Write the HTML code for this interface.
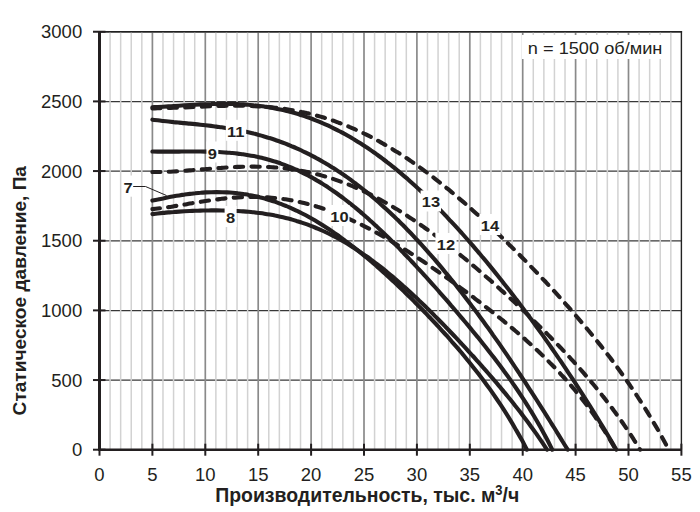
<!DOCTYPE html>
<html><head><meta charset="utf-8"><style>
html,body{margin:0;padding:0;background:#fff;overflow:hidden;width:700px;height:512px;}
svg{display:block;font-family:"Liberation Sans",sans-serif;}
</style></head><body>
<svg width="700" height="512" viewBox="0 0 700 512">
<rect width="700" height="512" fill="#fff"/>
<line x1="99.5" y1="380.19" x2="681.40" y2="380.19" stroke="#383838" stroke-width="1.2"/>
<line x1="99.5" y1="310.53" x2="681.40" y2="310.53" stroke="#383838" stroke-width="1.2"/>
<line x1="99.5" y1="240.87" x2="681.40" y2="240.87" stroke="#383838" stroke-width="1.2"/>
<line x1="99.5" y1="171.21" x2="681.40" y2="171.21" stroke="#383838" stroke-width="1.2"/>
<line x1="99.5" y1="101.55" x2="681.40" y2="101.55" stroke="#383838" stroke-width="1.2"/>
<line x1="99.5" y1="31.89" x2="681.40" y2="31.89" stroke="#383838" stroke-width="1.2"/>
<line x1="110.08" y1="31.74" x2="110.08" y2="449.7" stroke="#d2d2d2" stroke-width="1.5"/>
<line x1="120.66" y1="31.74" x2="120.66" y2="449.7" stroke="#d2d2d2" stroke-width="1.5"/>
<line x1="131.24" y1="31.74" x2="131.24" y2="449.7" stroke="#d2d2d2" stroke-width="1.5"/>
<line x1="141.82" y1="31.74" x2="141.82" y2="449.7" stroke="#d2d2d2" stroke-width="1.5"/>
<line x1="162.98" y1="31.74" x2="162.98" y2="449.7" stroke="#d2d2d2" stroke-width="1.5"/>
<line x1="173.56" y1="31.74" x2="173.56" y2="449.7" stroke="#d2d2d2" stroke-width="1.5"/>
<line x1="184.14" y1="31.74" x2="184.14" y2="449.7" stroke="#d2d2d2" stroke-width="1.5"/>
<line x1="194.72" y1="31.74" x2="194.72" y2="449.7" stroke="#d2d2d2" stroke-width="1.5"/>
<line x1="215.88" y1="31.74" x2="215.88" y2="449.7" stroke="#d2d2d2" stroke-width="1.5"/>
<line x1="226.46" y1="31.74" x2="226.46" y2="449.7" stroke="#d2d2d2" stroke-width="1.5"/>
<line x1="237.04" y1="31.74" x2="237.04" y2="449.7" stroke="#d2d2d2" stroke-width="1.5"/>
<line x1="247.62" y1="31.74" x2="247.62" y2="449.7" stroke="#d2d2d2" stroke-width="1.5"/>
<line x1="268.78" y1="31.74" x2="268.78" y2="449.7" stroke="#d2d2d2" stroke-width="1.5"/>
<line x1="279.36" y1="31.74" x2="279.36" y2="449.7" stroke="#d2d2d2" stroke-width="1.5"/>
<line x1="289.94" y1="31.74" x2="289.94" y2="449.7" stroke="#d2d2d2" stroke-width="1.5"/>
<line x1="300.52" y1="31.74" x2="300.52" y2="449.7" stroke="#d2d2d2" stroke-width="1.5"/>
<line x1="321.68" y1="31.74" x2="321.68" y2="449.7" stroke="#d2d2d2" stroke-width="1.5"/>
<line x1="332.26" y1="31.74" x2="332.26" y2="449.7" stroke="#d2d2d2" stroke-width="1.5"/>
<line x1="342.84" y1="31.74" x2="342.84" y2="449.7" stroke="#d2d2d2" stroke-width="1.5"/>
<line x1="353.42" y1="31.74" x2="353.42" y2="449.7" stroke="#d2d2d2" stroke-width="1.5"/>
<line x1="374.58" y1="31.74" x2="374.58" y2="449.7" stroke="#d2d2d2" stroke-width="1.5"/>
<line x1="385.16" y1="31.74" x2="385.16" y2="449.7" stroke="#d2d2d2" stroke-width="1.5"/>
<line x1="395.74" y1="31.74" x2="395.74" y2="449.7" stroke="#d2d2d2" stroke-width="1.5"/>
<line x1="406.32" y1="31.74" x2="406.32" y2="449.7" stroke="#d2d2d2" stroke-width="1.5"/>
<line x1="427.48" y1="31.74" x2="427.48" y2="449.7" stroke="#d2d2d2" stroke-width="1.5"/>
<line x1="438.06" y1="31.74" x2="438.06" y2="449.7" stroke="#d2d2d2" stroke-width="1.5"/>
<line x1="448.64" y1="31.74" x2="448.64" y2="449.7" stroke="#d2d2d2" stroke-width="1.5"/>
<line x1="459.22" y1="31.74" x2="459.22" y2="449.7" stroke="#d2d2d2" stroke-width="1.5"/>
<line x1="480.38" y1="31.74" x2="480.38" y2="449.7" stroke="#d2d2d2" stroke-width="1.5"/>
<line x1="490.96" y1="31.74" x2="490.96" y2="449.7" stroke="#d2d2d2" stroke-width="1.5"/>
<line x1="501.54" y1="31.74" x2="501.54" y2="449.7" stroke="#d2d2d2" stroke-width="1.5"/>
<line x1="512.12" y1="31.74" x2="512.12" y2="449.7" stroke="#d2d2d2" stroke-width="1.5"/>
<line x1="533.28" y1="31.74" x2="533.28" y2="449.7" stroke="#d2d2d2" stroke-width="1.5"/>
<line x1="543.86" y1="31.74" x2="543.86" y2="449.7" stroke="#d2d2d2" stroke-width="1.5"/>
<line x1="554.44" y1="31.74" x2="554.44" y2="449.7" stroke="#d2d2d2" stroke-width="1.5"/>
<line x1="565.02" y1="31.74" x2="565.02" y2="449.7" stroke="#d2d2d2" stroke-width="1.5"/>
<line x1="586.18" y1="31.74" x2="586.18" y2="449.7" stroke="#d2d2d2" stroke-width="1.5"/>
<line x1="596.76" y1="31.74" x2="596.76" y2="449.7" stroke="#d2d2d2" stroke-width="1.5"/>
<line x1="607.34" y1="31.74" x2="607.34" y2="449.7" stroke="#d2d2d2" stroke-width="1.5"/>
<line x1="617.92" y1="31.74" x2="617.92" y2="449.7" stroke="#d2d2d2" stroke-width="1.5"/>
<line x1="639.08" y1="31.74" x2="639.08" y2="449.7" stroke="#d2d2d2" stroke-width="1.5"/>
<line x1="649.66" y1="31.74" x2="649.66" y2="449.7" stroke="#d2d2d2" stroke-width="1.5"/>
<line x1="660.24" y1="31.74" x2="660.24" y2="449.7" stroke="#d2d2d2" stroke-width="1.5"/>
<line x1="670.82" y1="31.74" x2="670.82" y2="449.7" stroke="#d2d2d2" stroke-width="1.5"/>
<line x1="152.40" y1="31.74" x2="152.40" y2="449.7" stroke="#8a8a8a" stroke-width="1.7"/>
<line x1="205.30" y1="31.74" x2="205.30" y2="449.7" stroke="#8a8a8a" stroke-width="1.7"/>
<line x1="258.20" y1="31.74" x2="258.20" y2="449.7" stroke="#8a8a8a" stroke-width="1.7"/>
<line x1="311.10" y1="31.74" x2="311.10" y2="449.7" stroke="#8a8a8a" stroke-width="1.7"/>
<line x1="364.00" y1="31.74" x2="364.00" y2="449.7" stroke="#8a8a8a" stroke-width="1.7"/>
<line x1="416.90" y1="31.74" x2="416.90" y2="449.7" stroke="#8a8a8a" stroke-width="1.7"/>
<line x1="469.80" y1="31.74" x2="469.80" y2="449.7" stroke="#8a8a8a" stroke-width="1.7"/>
<line x1="522.70" y1="31.74" x2="522.70" y2="449.7" stroke="#8a8a8a" stroke-width="1.7"/>
<line x1="575.60" y1="31.74" x2="575.60" y2="449.7" stroke="#8a8a8a" stroke-width="1.7"/>
<line x1="628.50" y1="31.74" x2="628.50" y2="449.7" stroke="#8a8a8a" stroke-width="1.7"/>
<line x1="681.40" y1="31.24" x2="681.40" y2="449.7" stroke="#222" stroke-width="1.4"/>
<line x1="99.5" y1="31.74" x2="682.10" y2="31.74" stroke="#222" stroke-width="1.5"/>
<path d="M152.40,107.25 C153.3,107.2 156.0,107.1 157.7,107.0 C159.5,106.9 161.3,106.8 163.1,106.7 C164.8,106.6 166.6,106.5 168.4,106.4 C170.2,106.3 172.0,106.1 173.7,106.0 C175.5,105.9 177.3,105.8 179.1,105.7 C180.8,105.6 182.6,105.4 184.4,105.3 C186.2,105.2 188.0,105.1 189.7,105.0 C191.5,104.9 193.3,104.8 195.1,104.7 C196.8,104.6 198.6,104.5 200.4,104.4 C202.2,104.3 203.9,104.2 205.7,104.2 C207.5,104.1 209.3,104.0 211.1,104.0 C212.8,103.9 214.6,103.9 216.4,103.9 C218.2,103.8 219.9,103.8 221.7,103.8 C223.5,103.8 225.3,103.8 227.1,103.8 C228.8,103.8 230.6,103.9 232.4,103.9 C234.2,104.0 235.9,104.0 237.7,104.1 C239.5,104.2 241.3,104.3 243.1,104.4 C244.8,104.5 246.6,104.6 248.4,104.8 C250.2,104.9 251.9,105.1 253.7,105.3 C255.5,105.4 257.3,105.6 259.1,105.9 C260.8,106.1 262.6,106.3 264.4,106.6 C266.2,106.8 267.9,107.1 269.7,107.4 C271.5,107.7 273.3,108.0 275.0,108.4 C276.8,108.7 278.6,109.1 280.4,109.5 C282.2,109.9 283.9,110.3 285.7,110.7 C287.5,111.2 289.3,111.6 291.0,112.1 C292.8,112.6 294.6,113.1 296.4,113.6 C298.2,114.1 299.9,114.7 301.7,115.3 C303.5,115.8 305.3,116.4 307.0,117.1 C308.8,117.7 310.6,118.3 312.4,119.0 C314.2,119.7 315.9,120.4 317.7,121.1 C319.5,121.8 321.3,122.6 323.0,123.4 C324.8,124.1 326.6,124.9 328.4,125.7 C330.2,126.6 331.9,127.4 333.7,128.3 C335.5,129.2 337.3,130.1 339.0,131.0 C340.8,131.9 342.6,132.9 344.4,133.8 C346.1,134.8 347.9,135.8 349.7,136.8 C351.5,137.9 353.3,138.9 355.0,140.0 C356.8,141.1 358.6,142.2 360.4,143.3 C362.1,144.4 363.9,145.6 365.7,146.8 C367.5,147.9 369.3,149.2 371.0,150.4 C372.8,151.6 374.6,152.9 376.4,154.1 C378.1,155.4 379.9,156.7 381.7,158.0 C383.5,159.4 385.3,160.7 387.0,162.1 C388.8,163.5 390.6,164.9 392.4,166.3 C394.1,167.7 395.9,169.2 397.7,170.6 C399.5,172.1 401.3,173.6 403.0,175.1 C404.8,176.6 406.6,178.2 408.4,179.7 C410.1,181.3 411.9,182.9 413.7,184.5 C415.5,186.1 417.3,187.7 419.0,189.4 C420.8,191.0 422.6,192.7 424.4,194.4 C426.1,196.1 427.9,197.8 429.7,199.5 C431.5,201.3 433.2,203.0 435.0,204.8 C436.8,206.6 438.6,208.4 440.4,210.2 C442.1,212.0 443.9,213.9 445.7,215.7 C447.5,217.6 449.2,219.5 451.0,221.4 C452.8,223.3 454.6,225.2 456.4,227.2 C458.1,229.1 459.9,231.1 461.7,233.0 C463.5,235.0 465.2,237.0 467.0,239.0 C468.8,241.0 470.6,243.1 472.4,245.1 C474.1,247.2 475.9,249.3 477.7,251.3 C479.5,253.4 481.2,255.5 483.0,257.7 C484.8,259.8 486.6,261.9 488.4,264.1 C490.1,266.2 491.9,268.4 493.7,270.6 C495.5,272.8 497.2,275.0 499.0,277.3 C500.8,279.5 502.6,281.7 504.3,284.0 C506.1,286.2 507.9,288.5 509.7,290.8 C511.5,293.1 513.2,295.4 515.0,297.7 C516.8,300.1 518.6,302.4 520.3,304.8 C522.1,307.1 523.9,309.5 525.7,311.9 C527.5,314.3 529.2,316.7 531.0,319.1 C532.8,321.6 534.6,324.0 536.3,326.5 C538.1,328.9 539.9,331.4 541.7,333.9 C543.5,336.4 545.2,338.9 547.0,341.4 C548.8,343.9 550.6,346.5 552.3,349.0 C554.1,351.6 555.9,354.2 557.7,356.8 C559.5,359.4 561.2,362.0 563.0,364.6 C564.8,367.2 566.6,369.9 568.3,372.6 C570.1,375.2 571.9,377.9 573.7,380.6 C575.5,383.3 577.2,386.0 579.0,388.8 C580.8,391.5 582.6,394.3 584.3,397.1 C586.1,399.9 587.9,402.7 589.7,405.5 C591.4,408.3 593.2,411.2 595.0,414.0 C596.8,416.9 598.6,419.8 600.3,422.7 C602.1,425.7 603.9,428.6 605.7,431.6 C607.4,434.5 609.2,437.5 611.0,440.6 C612.8,443.6 615.4,448.2 616.3,449.7" fill="none" stroke="#231f20" stroke-width="4.1" stroke-linecap="round" stroke-linejoin="round"/>
<path d="M152.40,108.37 C153.3,108.4 155.9,108.3 157.7,108.3 C159.5,108.3 161.3,108.2 163.0,108.2 C164.8,108.1 166.6,108.1 168.4,108.0 C170.1,108.0 171.9,107.9 173.7,107.8 C175.5,107.8 177.2,107.7 179.0,107.6 C180.8,107.6 182.6,107.5 184.3,107.4 C186.1,107.3 187.9,107.2 189.7,107.2 C191.4,107.1 193.2,107.0 195.0,106.9 C196.8,106.8 198.5,106.8 200.3,106.7 C202.1,106.6 203.9,106.5 205.6,106.4 C207.4,106.4 209.2,106.3 210.9,106.2 C212.7,106.2 214.5,106.1 216.3,106.1 C218.0,106.0 219.8,105.9 221.6,105.9 C223.4,105.9 225.1,105.8 226.9,105.8 C228.7,105.8 230.5,105.7 232.2,105.7 C234.0,105.7 235.8,105.7 237.6,105.7 C239.3,105.7 241.1,105.8 242.9,105.8 C244.7,105.8 246.4,105.8 248.2,105.9 C250.0,106.0 251.8,106.0 253.5,106.1 C255.3,106.2 257.1,106.3 258.9,106.4 C260.6,106.5 262.4,106.6 264.2,106.7 C266.0,106.8 267.7,107.0 269.5,107.1 C271.3,107.3 273.0,107.5 274.8,107.7 C276.6,107.9 278.4,108.1 280.1,108.3 C281.9,108.5 283.7,108.8 285.5,109.0 C287.2,109.3 289.0,109.6 290.8,109.9 C292.6,110.2 294.3,110.5 296.1,110.8 C297.9,111.2 299.7,111.5 301.4,111.9 C303.2,112.3 305.0,112.6 306.8,113.1 C308.5,113.5 310.3,113.9 312.1,114.4 C313.9,114.8 315.6,115.3 317.4,115.8 C319.2,116.3 321.0,116.8 322.7,117.3 C324.5,117.8 326.3,118.4 328.0,119.0 C329.8,119.5 331.6,120.1 333.4,120.7 C335.1,121.4 336.9,122.0 338.7,122.7 C340.5,123.3 342.2,124.0 344.0,124.7 C345.8,125.4 347.6,126.1 349.3,126.9 C351.1,127.6 352.9,128.4 354.7,129.2 C356.4,130.0 358.2,130.8 360.0,131.6 C361.8,132.4 363.5,133.3 365.3,134.1 C367.1,135.0 368.9,135.9 370.6,136.8 C372.4,137.7 374.2,138.7 376.0,139.6 C377.7,140.6 379.5,141.6 381.3,142.6 C383.1,143.6 384.8,144.6 386.6,145.6 C388.4,146.7 390.1,147.7 391.9,148.8 C393.7,149.9 395.5,151.0 397.2,152.1 C399.0,153.2 400.8,154.4 402.6,155.5 C404.3,156.7 406.1,157.8 407.9,159.0 C409.7,160.2 411.4,161.5 413.2,162.7 C415.0,163.9 416.8,165.2 418.5,166.4 C420.3,167.7 422.1,169.0 423.9,170.3 C425.6,171.6 427.4,172.9 429.2,174.3 C431.0,175.6 432.7,177.0 434.5,178.3 C436.3,179.7 438.1,181.1 439.8,182.5 C441.6,183.9 443.4,185.3 445.1,186.8 C446.9,188.2 448.7,189.7 450.5,191.1 C452.2,192.6 454.0,194.1 455.8,195.6 C457.6,197.1 459.3,198.6 461.1,200.1 C462.9,201.6 464.7,203.2 466.4,204.7 C468.2,206.3 470.0,207.8 471.8,209.4 C473.5,211.0 475.3,212.6 477.1,214.2 C478.9,215.8 480.6,217.4 482.4,219.1 C484.2,220.7 486.0,222.3 487.7,224.0 C489.5,225.6 491.3,227.3 493.1,229.0 C494.8,230.7 496.6,232.4 498.4,234.1 C500.2,235.8 501.9,237.5 503.7,239.2 C505.5,240.9 507.2,242.6 509.0,244.4 C510.8,246.1 512.6,247.9 514.3,249.7 C516.1,251.4 517.9,253.2 519.7,255.0 C521.4,256.8 523.2,258.6 525.0,260.4 C526.8,262.2 528.5,264.0 530.3,265.9 C532.1,267.7 533.9,269.5 535.6,271.4 C537.4,273.2 539.2,275.1 541.0,277.0 C542.7,278.9 544.5,280.7 546.3,282.6 C548.1,284.6 549.8,286.5 551.6,288.4 C553.4,290.3 555.2,292.3 556.9,294.2 C558.7,296.2 560.5,298.1 562.2,300.1 C564.0,302.1 565.8,304.1 567.6,306.1 C569.3,308.1 571.1,310.1 572.9,312.1 C574.7,314.2 576.4,316.2 578.2,318.3 C580.0,320.4 581.8,322.5 583.5,324.6 C585.3,326.7 587.1,328.8 588.9,331.0 C590.6,333.1 592.4,335.3 594.2,337.5 C596.0,339.7 597.7,341.9 599.5,344.1 C601.3,346.3 603.1,348.6 604.8,350.9 C606.6,353.2 608.4,355.5 610.2,357.8 C611.9,360.2 613.7,362.5 615.5,365.0 C617.3,367.4 619.0,369.8 620.8,372.3 C622.6,374.7 624.3,377.2 626.1,379.8 C627.9,382.3 629.7,384.9 631.4,387.5 C633.2,390.1 635.0,392.8 636.8,395.5 C638.5,398.2 640.3,400.9 642.1,403.7 C643.9,406.5 645.6,409.3 647.4,412.2 C649.2,415.1 651.0,418.1 652.7,421.1 C654.5,424.1 656.3,427.1 658.1,430.2 C659.8,433.3 661.6,436.5 663.4,439.8 C665.2,443.0 667.8,448.0 668.7,449.7" fill="none" stroke="#231f20" stroke-width="4.1" stroke-dasharray="8.3 8.28" stroke-dashoffset="0.32" stroke-linecap="round"/>
<path d="M152.40,119.65 C153.3,119.8 155.9,120.1 157.7,120.3 C159.5,120.6 161.3,120.8 163.0,121.0 C164.8,121.2 166.6,121.4 168.4,121.5 C170.1,121.7 171.9,121.9 173.7,122.1 C175.5,122.2 177.2,122.4 179.0,122.6 C180.8,122.8 182.6,122.9 184.3,123.1 C186.1,123.3 187.9,123.4 189.7,123.6 C191.4,123.8 193.2,124.0 195.0,124.1 C196.8,124.3 198.5,124.5 200.3,124.7 C202.1,124.9 203.9,125.1 205.6,125.3 C207.4,125.5 209.2,125.7 211.0,125.9 C212.7,126.1 214.5,126.4 216.3,126.6 C218.1,126.8 219.8,127.1 221.6,127.3 C223.4,127.6 225.2,127.9 226.9,128.2 C228.7,128.4 230.5,128.7 232.3,129.1 C234.0,129.4 235.8,129.7 237.6,130.0 C239.4,130.4 241.1,130.7 242.9,131.1 C244.7,131.5 246.5,131.9 248.2,132.3 C250.0,132.7 251.8,133.1 253.6,133.6 C255.3,134.0 257.1,134.5 258.9,135.0 C260.7,135.4 262.4,135.9 264.2,136.5 C266.0,137.0 267.8,137.5 269.5,138.1 C271.3,138.6 273.1,139.2 274.8,139.8 C276.6,140.4 278.4,141.1 280.2,141.7 C281.9,142.3 283.7,143.0 285.5,143.7 C287.3,144.4 289.0,145.1 290.8,145.8 C292.6,146.6 294.4,147.3 296.1,148.1 C297.9,148.9 299.7,149.7 301.5,150.5 C303.2,151.4 305.0,152.2 306.8,153.1 C308.6,154.0 310.3,154.9 312.1,155.8 C313.9,156.7 315.7,157.7 317.4,158.7 C319.2,159.6 321.0,160.6 322.8,161.7 C324.5,162.7 326.3,163.7 328.1,164.8 C329.9,165.9 331.6,167.0 333.4,168.1 C335.2,169.2 337.0,170.4 338.7,171.6 C340.5,172.7 342.3,173.9 344.1,175.2 C345.8,176.4 347.6,177.6 349.4,178.9 C351.2,180.2 352.9,181.5 354.7,182.8 C356.5,184.2 358.3,185.5 360.0,186.9 C361.8,188.3 363.6,189.7 365.4,191.1 C367.1,192.5 368.9,194.0 370.7,195.5 C372.5,197.0 374.2,198.5 376.0,200.0 C377.8,201.5 379.6,203.1 381.3,204.7 C383.1,206.3 384.9,207.9 386.7,209.5 C388.4,211.1 390.2,212.8 392.0,214.5 C393.8,216.1 395.5,217.8 397.3,219.6 C399.1,221.3 400.8,223.1 402.6,224.8 C404.4,226.6 406.2,228.4 407.9,230.3 C409.7,232.1 411.5,233.9 413.3,235.8 C415.0,237.7 416.8,239.6 418.6,241.5 C420.4,243.4 422.1,245.4 423.9,247.3 C425.7,249.3 427.5,251.3 429.2,253.3 C431.0,255.3 432.8,257.4 434.6,259.4 C436.3,261.5 438.1,263.6 439.9,265.7 C441.7,267.8 443.4,269.9 445.2,272.1 C447.0,274.2 448.8,276.4 450.5,278.6 C452.3,280.8 454.1,283.0 455.9,285.2 C457.6,287.5 459.4,289.7 461.2,292.0 C463.0,294.3 464.7,296.6 466.5,298.9 C468.3,301.2 470.1,303.5 471.8,305.9 C473.6,308.2 475.4,310.6 477.2,313.0 C478.9,315.4 480.7,317.8 482.5,320.3 C484.3,322.7 486.0,325.2 487.8,327.6 C489.6,330.1 491.4,332.6 493.1,335.1 C494.9,337.6 496.7,340.1 498.5,342.7 C500.2,345.2 502.0,347.8 503.8,350.4 C505.6,352.9 507.3,355.5 509.1,358.1 C510.9,360.8 512.7,363.4 514.4,366.0 C516.2,368.7 518.0,371.3 519.7,374.0 C521.5,376.7 523.3,379.4 525.1,382.1 C526.8,384.8 528.6,387.5 530.4,390.3 C532.2,393.0 533.9,395.7 535.7,398.5 C537.5,401.3 539.3,404.1 541.0,406.8 C542.8,409.6 544.6,412.4 546.4,415.3 C548.1,418.1 549.9,420.9 551.7,423.8 C553.5,426.6 555.2,429.5 557.0,432.3 C558.8,435.2 560.6,438.1 562.3,441.0 C564.1,443.9 566.8,448.2 567.7,449.7" fill="none" stroke="#231f20" stroke-width="4.1" stroke-linecap="round" stroke-linejoin="round"/>
<path d="M152.40,172.04 C153.3,172.0 155.9,172.0 157.7,172.0 C159.5,172.0 161.2,172.0 163.0,171.9 C164.8,171.9 166.5,171.8 168.3,171.7 C170.1,171.7 171.8,171.6 173.6,171.5 C175.4,171.4 177.1,171.3 178.9,171.2 C180.7,171.1 182.4,170.9 184.2,170.8 C186.0,170.7 187.7,170.5 189.5,170.4 C191.3,170.3 193.0,170.1 194.8,170.0 C196.6,169.8 198.3,169.7 200.1,169.5 C201.9,169.4 203.6,169.2 205.4,169.1 C207.2,168.9 208.9,168.8 210.7,168.7 C212.5,168.5 214.3,168.4 216.0,168.2 C217.8,168.1 219.6,168.0 221.3,167.9 C223.1,167.7 224.9,167.6 226.6,167.5 C228.4,167.4 230.2,167.3 231.9,167.2 C233.7,167.1 235.5,167.0 237.2,166.9 C239.0,166.9 240.8,166.8 242.5,166.8 C244.3,166.7 246.1,166.7 247.8,166.6 C249.6,166.6 251.4,166.6 253.1,166.6 C254.9,166.6 256.7,166.6 258.4,166.7 C260.2,166.7 262.0,166.7 263.7,166.8 C265.5,166.8 267.3,166.9 269.0,167.0 C270.8,167.1 272.6,167.2 274.3,167.4 C276.1,167.5 277.9,167.6 279.6,167.8 C281.4,168.0 283.2,168.1 284.9,168.3 C286.7,168.5 288.5,168.8 290.2,169.0 C292.0,169.3 293.8,169.5 295.5,169.8 C297.3,170.1 299.1,170.4 300.8,170.7 C302.6,171.0 304.4,171.4 306.1,171.7 C307.9,172.1 309.7,172.5 311.4,172.9 C313.2,173.3 315.0,173.7 316.7,174.2 C318.5,174.6 320.3,175.1 322.0,175.6 C323.8,176.1 325.6,176.6 327.3,177.1 C329.1,177.7 330.9,178.2 332.7,178.8 C334.4,179.4 336.2,180.0 338.0,180.6 C339.7,181.2 341.5,181.9 343.3,182.6 C345.0,183.2 346.8,183.9 348.6,184.6 C350.3,185.3 352.1,186.1 353.9,186.8 C355.6,187.6 357.4,188.4 359.2,189.2 C360.9,190.0 362.7,190.8 364.5,191.6 C366.2,192.4 368.0,193.3 369.8,194.2 C371.5,195.1 373.3,196.0 375.1,196.9 C376.8,197.8 378.6,198.8 380.4,199.7 C382.1,200.7 383.9,201.7 385.7,202.7 C387.4,203.7 389.2,204.7 391.0,205.7 C392.7,206.8 394.5,207.8 396.3,208.9 C398.0,210.0 399.8,211.1 401.6,212.2 C403.3,213.3 405.1,214.4 406.9,215.6 C408.6,216.7 410.4,217.9 412.2,219.1 C413.9,220.2 415.7,221.4 417.5,222.7 C419.2,223.9 421.0,225.1 422.8,226.4 C424.5,227.6 426.3,228.9 428.1,230.1 C429.8,231.4 431.6,232.7 433.4,234.0 C435.1,235.3 436.9,236.6 438.7,238.0 C440.4,239.3 442.2,240.7 444.0,242.0 C445.7,243.4 447.5,244.7 449.3,246.1 C451.1,247.5 452.8,248.9 454.6,250.3 C456.4,251.7 458.1,253.2 459.9,254.6 C461.7,256.0 463.4,257.5 465.2,258.9 C467.0,260.4 468.7,261.9 470.5,263.4 C472.3,264.8 474.0,266.3 475.8,267.8 C477.6,269.3 479.3,270.8 481.1,272.4 C482.9,273.9 484.6,275.4 486.4,277.0 C488.2,278.5 489.9,280.1 491.7,281.6 C493.5,283.2 495.2,284.7 497.0,286.3 C498.8,287.9 500.5,289.5 502.3,291.1 C504.1,292.7 505.8,294.3 507.6,295.9 C509.4,297.5 511.1,299.2 512.9,300.8 C514.7,302.4 516.4,304.1 518.2,305.8 C520.0,307.4 521.7,309.1 523.5,310.8 C525.3,312.4 527.0,314.1 528.8,315.8 C530.6,317.5 532.3,319.2 534.1,321.0 C535.9,322.7 537.6,324.4 539.4,326.2 C541.2,327.9 542.9,329.7 544.7,331.4 C546.5,333.2 548.2,335.0 550.0,336.8 C551.8,338.6 553.5,340.4 555.3,342.2 C557.1,344.0 558.8,345.9 560.6,347.7 C562.4,349.6 564.1,351.5 565.9,353.3 C567.7,355.2 569.5,357.1 571.2,359.1 C573.0,361.0 574.8,363.0 576.5,364.9 C578.3,366.9 580.1,368.9 581.8,370.9 C583.6,372.9 585.4,375.0 587.1,377.0 C588.9,379.1 590.7,381.2 592.4,383.3 C594.2,385.4 596.0,387.6 597.7,389.7 C599.5,391.9 601.3,394.1 603.0,396.4 C604.8,398.6 606.6,400.9 608.3,403.2 C610.1,405.5 611.9,407.9 613.6,410.3 C615.4,412.7 617.2,415.1 618.9,417.6 C620.7,420.0 622.5,422.6 624.2,425.1 C626.0,427.7 627.8,430.3 629.5,433.0 C631.3,435.7 633.1,438.4 634.8,441.2 C636.6,444.0 639.3,448.3 640.1,449.7" fill="none" stroke="#231f20" stroke-width="4.1" stroke-dasharray="8.3 8.28" stroke-dashoffset="0.25" stroke-linecap="round"/>
<path d="M152.40,151.56 C153.3,151.6 156.0,151.6 157.7,151.6 C159.5,151.6 161.3,151.6 163.1,151.6 C164.8,151.6 166.6,151.6 168.4,151.6 C170.2,151.6 172.0,151.6 173.7,151.6 C175.5,151.6 177.3,151.6 179.1,151.6 C180.8,151.6 182.6,151.5 184.4,151.5 C186.2,151.5 187.9,151.5 189.7,151.5 C191.5,151.5 193.3,151.5 195.1,151.5 C196.8,151.5 198.6,151.5 200.4,151.5 C202.2,151.6 203.9,151.6 205.7,151.6 C207.5,151.6 209.3,151.7 211.1,151.7 C212.8,151.8 214.6,151.9 216.4,151.9 C218.2,152.0 219.9,152.1 221.7,152.2 C223.5,152.3 225.3,152.4 227.1,152.6 C228.8,152.7 230.6,152.9 232.4,153.0 C234.2,153.2 235.9,153.4 237.7,153.6 C239.5,153.8 241.3,154.1 243.0,154.3 C244.8,154.6 246.6,154.9 248.4,155.2 C250.2,155.5 251.9,155.8 253.7,156.1 C255.5,156.5 257.3,156.9 259.0,157.2 C260.8,157.6 262.6,158.1 264.4,158.5 C266.2,159.0 267.9,159.5 269.7,160.0 C271.5,160.5 273.3,161.0 275.0,161.6 C276.8,162.1 278.6,162.7 280.4,163.3 C282.2,164.0 283.9,164.6 285.7,165.3 C287.5,166.0 289.3,166.7 291.0,167.4 C292.8,168.2 294.6,168.9 296.4,169.7 C298.2,170.5 299.9,171.4 301.7,172.3 C303.5,173.1 305.3,174.0 307.0,174.9 C308.8,175.9 310.6,176.8 312.4,177.8 C314.1,178.8 315.9,179.8 317.7,180.9 C319.5,181.9 321.3,183.0 323.0,184.1 C324.8,185.3 326.6,186.4 328.4,187.6 C330.1,188.8 331.9,190.0 333.7,191.2 C335.5,192.4 337.3,193.7 339.0,195.0 C340.8,196.3 342.6,197.6 344.4,199.0 C346.1,200.3 347.9,201.7 349.7,203.1 C351.5,204.5 353.3,206.0 355.0,207.4 C356.8,208.9 358.6,210.4 360.4,211.9 C362.1,213.4 363.9,214.9 365.7,216.5 C367.5,218.0 369.2,219.6 371.0,221.2 C372.8,222.8 374.6,224.5 376.4,226.1 C378.1,227.8 379.9,229.5 381.7,231.2 C383.5,232.9 385.2,234.6 387.0,236.3 C388.8,238.0 390.6,239.8 392.4,241.6 C394.1,243.3 395.9,245.1 397.7,246.9 C399.5,248.7 401.2,250.6 403.0,252.4 C404.8,254.3 406.6,256.1 408.4,258.0 C410.1,259.9 411.9,261.7 413.7,263.6 C415.5,265.5 417.2,267.5 419.0,269.4 C420.8,271.3 422.6,273.2 424.3,275.2 C426.1,277.1 427.9,279.1 429.7,281.1 C431.5,283.1 433.2,285.0 435.0,287.0 C436.8,289.0 438.6,291.0 440.3,293.1 C442.1,295.1 443.9,297.1 445.7,299.1 C447.5,301.2 449.2,303.2 451.0,305.3 C452.8,307.3 454.6,309.4 456.3,311.5 C458.1,313.6 459.9,315.7 461.7,317.8 C463.5,319.9 465.2,322.0 467.0,324.1 C468.8,326.3 470.6,328.4 472.3,330.6 C474.1,332.7 475.9,334.9 477.7,337.1 C479.4,339.3 481.2,341.5 483.0,343.7 C484.8,345.9 486.6,348.2 488.3,350.4 C490.1,352.7 491.9,355.0 493.7,357.3 C495.4,359.6 497.2,362.0 499.0,364.3 C500.8,366.7 502.6,369.1 504.3,371.5 C506.1,373.9 507.9,376.4 509.7,378.9 C511.4,381.4 513.2,383.9 515.0,386.5 C516.8,389.1 518.6,391.7 520.3,394.4 C522.1,397.1 523.9,399.8 525.7,402.6 C527.4,405.4 529.2,408.2 531.0,411.1 C532.8,414.0 534.5,417.0 536.3,420.0 C538.1,423.1 539.9,426.2 541.7,429.4 C543.4,432.6 545.2,435.9 547.0,439.3 C548.8,442.7 551.4,448.0 552.3,449.7" fill="none" stroke="#231f20" stroke-width="4.1" stroke-linecap="round" stroke-linejoin="round"/>
<path d="M152.40,209.09 C153.3,209.0 156.0,208.7 157.7,208.5 C159.5,208.3 161.3,208.1 163.1,207.9 C164.8,207.6 166.6,207.4 168.4,207.1 C170.2,206.9 171.9,206.6 173.7,206.3 C175.5,206.0 177.3,205.7 179.0,205.4 C180.8,205.1 182.6,204.8 184.4,204.6 C186.1,204.3 187.9,203.9 189.7,203.6 C191.5,203.3 193.2,203.0 195.0,202.7 C196.8,202.5 198.6,202.2 200.3,201.9 C202.1,201.6 203.9,201.3 205.7,201.0 C207.4,200.8 209.2,200.5 211.0,200.2 C212.8,200.0 214.5,199.7 216.3,199.5 C218.1,199.3 219.9,199.0 221.6,198.8 C223.4,198.6 225.2,198.4 227.0,198.3 C228.7,198.1 230.5,197.9 232.3,197.8 C234.1,197.6 235.8,197.5 237.6,197.4 C239.4,197.3 241.2,197.2 243.0,197.1 C244.7,197.0 246.5,197.0 248.3,196.9 C250.1,196.9 251.8,196.9 253.6,196.9 C255.4,196.9 257.2,196.9 258.9,196.9 C260.7,197.0 262.5,197.1 264.3,197.2 C266.0,197.2 267.8,197.4 269.6,197.5 C271.4,197.6 273.1,197.8 274.9,198.0 C276.7,198.1 278.5,198.4 280.2,198.6 C282.0,198.8 283.8,199.1 285.6,199.3 C287.3,199.6 289.1,199.9 290.9,200.2 C292.7,200.5 294.4,200.9 296.2,201.3 C298.0,201.6 299.8,202.0 301.5,202.4 C303.3,202.8 305.1,203.3 306.9,203.7 C308.6,204.2 310.4,204.7 312.2,205.2 C314.0,205.7 315.7,206.2 317.5,206.8 C319.3,207.3 321.1,207.9 322.8,208.5 C324.6,209.1 326.4,209.7 328.2,210.4 C329.9,211.0 331.7,211.7 333.5,212.4 C335.3,213.0 337.1,213.8 338.8,214.5 C340.6,215.2 342.4,215.9 344.2,216.7 C345.9,217.5 347.7,218.3 349.5,219.1 C351.3,219.9 353.0,220.7 354.8,221.5 C356.6,222.4 358.4,223.2 360.1,224.1 C361.9,225.0 363.7,225.9 365.5,226.8 C367.2,227.7 369.0,228.6 370.8,229.6 C372.6,230.5 374.3,231.5 376.1,232.5 C377.9,233.4 379.7,234.4 381.4,235.4 C383.2,236.4 385.0,237.5 386.8,238.5 C388.5,239.5 390.3,240.6 392.1,241.7 C393.9,242.7 395.6,243.8 397.4,244.9 C399.2,246.0 401.0,247.1 402.7,248.2 C404.5,249.3 406.3,250.4 408.1,251.5 C409.8,252.7 411.6,253.8 413.4,255.0 C415.2,256.1 416.9,257.3 418.7,258.5 C420.5,259.7 422.3,260.8 424.1,262.0 C425.8,263.2 427.6,264.4 429.4,265.6 C431.2,266.9 432.9,268.1 434.7,269.3 C436.5,270.5 438.3,271.8 440.0,273.0 C441.8,274.3 443.6,275.5 445.4,276.8 C447.1,278.1 448.9,279.3 450.7,280.6 C452.5,281.9 454.2,283.2 456.0,284.5 C457.8,285.7 459.6,287.0 461.3,288.4 C463.1,289.7 464.9,291.0 466.7,292.3 C468.4,293.6 470.2,295.0 472.0,296.3 C473.8,297.6 475.5,299.0 477.3,300.3 C479.1,301.7 480.9,303.0 482.6,304.4 C484.4,305.8 486.2,307.2 488.0,308.6 C489.7,309.9 491.5,311.3 493.3,312.8 C495.1,314.2 496.8,315.6 498.6,317.0 C500.4,318.4 502.2,319.9 503.9,321.3 C505.7,322.8 507.5,324.3 509.3,325.7 C511.0,327.2 512.8,328.7 514.6,330.2 C516.4,331.7 518.2,333.2 519.9,334.8 C521.7,336.3 523.5,337.9 525.3,339.4 C527.0,341.0 528.8,342.6 530.6,344.2 C532.4,345.8 534.1,347.5 535.9,349.1 C537.7,350.8 539.5,352.4 541.2,354.1 C543.0,355.9 544.8,357.6 546.6,359.3 C548.3,361.1 550.1,362.9 551.9,364.7 C553.7,366.5 555.4,368.3 557.2,370.2 C559.0,372.1 560.8,374.0 562.5,376.0 C564.3,377.9 566.1,379.9 567.9,381.9 C569.6,383.9 571.4,386.0 573.2,388.1 C575.0,390.2 576.7,392.4 578.5,394.6 C580.3,396.8 582.1,399.0 583.8,401.3 C585.6,403.7 587.4,406.0 589.2,408.4 C590.9,410.8 592.7,413.3 594.5,415.9 C596.3,418.4 598.0,421.0 599.8,423.7 C601.6,426.3 603.4,429.1 605.2,431.9 C606.9,434.7 608.7,437.6 610.5,440.6 C612.3,443.5 614.9,448.2 615.8,449.7" fill="none" stroke="#231f20" stroke-width="4.1" stroke-dasharray="8.3 8.28" stroke-dashoffset="0.75" stroke-linecap="round"/>
<path d="M152.40,200.60 C153.3,200.4 156.0,199.8 157.8,199.5 C159.5,199.1 161.3,198.7 163.1,198.4 C164.9,198.0 166.7,197.6 168.5,197.3 C170.2,197.0 172.0,196.6 173.8,196.3 C175.6,196.0 177.4,195.7 179.2,195.4 C180.9,195.1 182.7,194.8 184.5,194.6 C186.3,194.3 188.1,194.1 189.9,193.9 C191.6,193.7 193.4,193.4 195.2,193.3 C197.0,193.1 198.8,192.9 200.6,192.8 C202.3,192.6 204.1,192.5 205.9,192.4 C207.7,192.3 209.5,192.2 211.3,192.2 C213.0,192.1 214.8,192.1 216.6,192.1 C218.4,192.1 220.2,192.1 222.0,192.2 C223.7,192.2 225.5,192.3 227.3,192.4 C229.1,192.5 230.9,192.6 232.7,192.7 C234.4,192.9 236.2,193.1 238.0,193.3 C239.8,193.5 241.6,193.7 243.4,194.0 C245.1,194.3 246.9,194.5 248.7,194.9 C250.5,195.2 252.3,195.5 254.1,195.9 C255.8,196.3 257.6,196.7 259.4,197.2 C261.2,197.6 263.0,198.1 264.8,198.6 C266.5,199.1 268.3,199.6 270.1,200.2 C271.9,200.7 273.7,201.3 275.5,201.9 C277.2,202.6 279.0,203.2 280.8,203.9 C282.6,204.6 284.4,205.3 286.2,206.0 C287.9,206.8 289.7,207.5 291.5,208.3 C293.3,209.1 295.1,210.0 296.9,210.8 C298.6,211.7 300.4,212.6 302.2,213.5 C304.0,214.4 305.8,215.3 307.6,216.3 C309.3,217.3 311.1,218.3 312.9,219.3 C314.7,220.3 316.5,221.4 318.3,222.5 C320.0,223.5 321.8,224.6 323.6,225.8 C325.4,226.9 327.2,228.1 329.0,229.3 C330.7,230.4 332.5,231.6 334.3,232.9 C336.1,234.1 337.9,235.4 339.7,236.6 C341.4,237.9 343.2,239.2 345.0,240.6 C346.8,241.9 348.6,243.2 350.4,244.6 C352.2,246.0 353.9,247.4 355.7,248.8 C357.5,250.2 359.3,251.6 361.1,253.1 C362.9,254.5 364.6,256.0 366.4,257.5 C368.2,259.0 370.0,260.5 371.8,262.0 C373.6,263.5 375.3,265.1 377.1,266.6 C378.9,268.2 380.7,269.8 382.5,271.4 C384.3,273.0 386.0,274.6 387.8,276.2 C389.6,277.9 391.4,279.5 393.2,281.2 C395.0,282.8 396.7,284.5 398.5,286.2 C400.3,287.9 402.1,289.6 403.9,291.3 C405.7,293.1 407.4,294.8 409.2,296.6 C411.0,298.3 412.8,300.1 414.6,301.9 C416.4,303.6 418.1,305.4 419.9,307.3 C421.7,309.1 423.5,310.9 425.3,312.8 C427.1,314.6 428.8,316.5 430.6,318.3 C432.4,320.2 434.2,322.1 436.0,324.0 C437.8,325.9 439.5,327.9 441.3,329.8 C443.1,331.8 444.9,333.7 446.7,335.7 C448.5,337.7 450.2,339.7 452.0,341.8 C453.8,343.8 455.6,345.9 457.4,347.9 C459.2,350.0 460.9,352.1 462.7,354.2 C464.5,356.4 466.3,358.5 468.1,360.7 C469.9,362.9 471.6,365.1 473.4,367.4 C475.2,369.6 477.0,371.9 478.8,374.2 C480.6,376.6 482.3,378.9 484.1,381.3 C485.9,383.7 487.7,386.2 489.5,388.6 C491.3,391.1 493.0,393.7 494.8,396.2 C496.6,398.8 498.4,401.5 500.2,404.2 C502.0,406.9 503.7,409.6 505.5,412.4 C507.3,415.2 509.1,418.1 510.9,421.1 C512.7,424.0 514.4,427.0 516.2,430.1 C518.0,433.2 519.8,436.4 521.6,439.6 C523.4,442.9 526.0,448.0 526.9,449.7" fill="none" stroke="#231f20" stroke-width="4.1" stroke-linecap="round" stroke-linejoin="round"/>
<path d="M152.40,214.11 C153.3,214.0 156.0,213.7 157.7,213.5 C159.5,213.3 161.3,213.1 163.1,212.9 C164.8,212.7 166.6,212.6 168.4,212.4 C170.2,212.3 172.0,212.1 173.7,212.0 C175.5,211.8 177.3,211.7 179.1,211.6 C180.8,211.5 182.6,211.4 184.4,211.3 C186.2,211.2 188.0,211.1 189.7,211.0 C191.5,210.9 193.3,210.9 195.1,210.8 C196.8,210.7 198.6,210.7 200.4,210.6 C202.2,210.6 204.0,210.5 205.7,210.5 C207.5,210.5 209.3,210.4 211.1,210.4 C212.8,210.4 214.6,210.4 216.4,210.4 C218.2,210.4 219.9,210.4 221.7,210.5 C223.5,210.5 225.3,210.5 227.1,210.6 C228.8,210.6 230.6,210.7 232.4,210.8 C234.2,210.8 235.9,210.9 237.7,211.0 C239.5,211.1 241.3,211.2 243.1,211.4 C244.8,211.5 246.6,211.6 248.4,211.8 C250.2,212.0 251.9,212.1 253.7,212.3 C255.5,212.5 257.3,212.7 259.1,213.0 C260.8,213.2 262.6,213.4 264.4,213.7 C266.2,214.0 267.9,214.3 269.7,214.6 C271.5,214.9 273.3,215.2 275.1,215.6 C276.8,215.9 278.6,216.3 280.4,216.7 C282.2,217.1 283.9,217.5 285.7,217.9 C287.5,218.4 289.3,218.8 291.1,219.3 C292.8,219.8 294.6,220.3 296.4,220.9 C298.2,221.4 299.9,222.0 301.7,222.6 C303.5,223.2 305.3,223.8 307.1,224.4 C308.8,225.1 310.6,225.7 312.4,226.4 C314.2,227.1 315.9,227.9 317.7,228.6 C319.5,229.4 321.3,230.2 323.1,231.0 C324.8,231.8 326.6,232.6 328.4,233.5 C330.2,234.3 331.9,235.2 333.7,236.2 C335.5,237.1 337.3,238.0 339.1,239.0 C340.8,240.0 342.6,241.0 344.4,242.0 C346.2,243.1 347.9,244.1 349.7,245.2 C351.5,246.3 353.3,247.4 355.0,248.6 C356.8,249.7 358.6,250.9 360.4,252.1 C362.2,253.3 363.9,254.5 365.7,255.8 C367.5,257.0 369.3,258.3 371.0,259.6 C372.8,260.9 374.6,262.3 376.4,263.6 C378.2,265.0 379.9,266.3 381.7,267.7 C383.5,269.1 385.3,270.6 387.0,272.0 C388.8,273.5 390.6,275.0 392.4,276.4 C394.2,277.9 395.9,279.5 397.7,281.0 C399.5,282.5 401.3,284.1 403.0,285.7 C404.8,287.3 406.6,288.9 408.4,290.5 C410.2,292.1 411.9,293.7 413.7,295.4 C415.5,297.1 417.3,298.7 419.0,300.4 C420.8,302.1 422.6,303.8 424.4,305.5 C426.2,307.3 427.9,309.0 429.7,310.8 C431.5,312.5 433.3,314.3 435.0,316.1 C436.8,317.9 438.6,319.7 440.4,321.5 C442.2,323.3 443.9,325.1 445.7,327.0 C447.5,328.8 449.3,330.7 451.0,332.5 C452.8,334.4 454.6,336.3 456.4,338.1 C458.2,340.0 459.9,341.9 461.7,343.9 C463.5,345.8 465.3,347.7 467.0,349.6 C468.8,351.6 470.6,353.5 472.4,355.5 C474.2,357.4 475.9,359.4 477.7,361.4 C479.5,363.4 481.3,365.4 483.0,367.4 C484.8,369.4 486.6,371.4 488.4,373.5 C490.1,375.5 491.9,377.6 493.7,379.7 C495.5,381.7 497.3,383.8 499.0,385.9 C500.8,388.0 502.6,390.2 504.4,392.3 C506.1,394.5 507.9,396.6 509.7,398.8 C511.5,401.0 513.3,403.2 515.0,405.5 C516.8,407.7 518.6,410.0 520.4,412.3 C522.1,414.6 523.9,416.9 525.7,419.3 C527.5,421.6 529.3,424.0 531.0,426.5 C532.8,428.9 534.6,431.4 536.4,433.9 C538.1,436.5 539.9,439.0 541.7,441.7 C543.5,444.3 546.1,448.4 547.0,449.7" fill="none" stroke="#231f20" stroke-width="4.1" stroke-linecap="round" stroke-linejoin="round"/>
<rect x="122" y="175.5" width="19" height="21.2" fill="#fff"/>
<text transform="translate(128.2,193.1) scale(1.13,1)" x="0" y="0" font-size="14.6" font-weight="bold" text-anchor="middle" fill="#231f20">7</text>
<rect x="225.8" y="119.8" width="20.4" height="21" fill="#fff"/>
<text transform="translate(235.7,136.6) scale(1.13,1)" x="0" y="0" font-size="14.6" font-weight="bold" text-anchor="middle" fill="#231f20">11</text>
<rect x="206.4" y="141.5" width="11.9" height="21" fill="#fff"/>
<text transform="translate(212.3,158.6) scale(1.13,1)" x="0" y="0" font-size="14.6" font-weight="bold" text-anchor="middle" fill="#231f20">9</text>
<rect x="224.6" y="206" width="12" height="21" fill="#fff"/>
<text transform="translate(230.7,223.0) scale(1.13,1)" x="0" y="0" font-size="14.6" font-weight="bold" text-anchor="middle" fill="#231f20">8</text>
<rect x="328.5" y="205" width="21" height="21" fill="#fff"/>
<text transform="translate(339.5,221.6) scale(1.13,1)" x="0" y="0" font-size="14.6" font-weight="bold" text-anchor="middle" fill="#231f20">10</text>
<rect x="420.6" y="190.5" width="20.4" height="21" fill="#fff"/>
<text transform="translate(431,207.29999999999998) scale(1.13,1)" x="0" y="0" font-size="14.6" font-weight="bold" text-anchor="middle" fill="#231f20">13</text>
<rect x="479.6" y="214" width="20.8" height="21" fill="#fff"/>
<text transform="translate(490,231.2) scale(1.13,1)" x="0" y="0" font-size="14.6" font-weight="bold" text-anchor="middle" fill="#231f20">14</text>
<rect x="435.4" y="233" width="21.2" height="21" fill="#fff"/>
<text transform="translate(446,249.79999999999998) scale(1.13,1)" x="0" y="0" font-size="14.6" font-weight="bold" text-anchor="middle" fill="#231f20">12</text>
<polyline points="133.2,186.5 145.5,186.5 166.5,195.5" fill="none" stroke="#231f20" stroke-width="1"/>
<rect x="522" y="35" width="144" height="24" fill="#fff"/>
<text transform="translate(595.1,54.1) scale(1,0.92)" x="0" y="0" font-size="18.2" text-anchor="middle" fill="#231f20">n = 1500 об/мин</text>
<line x1="99.5" y1="30.94" x2="99.5" y2="450.70" stroke="#231f20" stroke-width="3"/>
<line x1="98.00" y1="449.70" x2="681.90" y2="449.70" stroke="#231f20" stroke-width="2.5"/>
<line x1="93" y1="449.70" x2="105.5" y2="449.70" stroke="#231f20" stroke-width="2"/>
<text x="82.2" y="456.20" font-size="18.5" text-anchor="end" fill="#231f20">0</text>
<line x1="93" y1="380.04" x2="105.5" y2="380.04" stroke="#231f20" stroke-width="2"/>
<text x="82.2" y="386.54" font-size="18.5" text-anchor="end" fill="#231f20">500</text>
<line x1="93" y1="310.38" x2="105.5" y2="310.38" stroke="#231f20" stroke-width="2"/>
<text x="82.2" y="316.88" font-size="18.5" text-anchor="end" fill="#231f20">1000</text>
<line x1="93" y1="240.72" x2="105.5" y2="240.72" stroke="#231f20" stroke-width="2"/>
<text x="82.2" y="247.22" font-size="18.5" text-anchor="end" fill="#231f20">1500</text>
<line x1="93" y1="171.06" x2="105.5" y2="171.06" stroke="#231f20" stroke-width="2"/>
<text x="82.2" y="177.56" font-size="18.5" text-anchor="end" fill="#231f20">2000</text>
<line x1="93" y1="101.40" x2="105.5" y2="101.40" stroke="#231f20" stroke-width="2"/>
<text x="82.2" y="107.90" font-size="18.5" text-anchor="end" fill="#231f20">2500</text>
<line x1="93" y1="31.74" x2="105.5" y2="31.74" stroke="#231f20" stroke-width="2"/>
<text x="82.2" y="38.24" font-size="18.5" text-anchor="end" fill="#231f20">3000</text>
<line x1="99.50" y1="443.7" x2="99.50" y2="455.7" stroke="#231f20" stroke-width="2"/>
<text x="99.50" y="481.2" font-size="18.5" text-anchor="middle" fill="#231f20">0</text>
<line x1="152.40" y1="443.7" x2="152.40" y2="455.7" stroke="#231f20" stroke-width="2"/>
<text x="152.40" y="481.2" font-size="18.5" text-anchor="middle" fill="#231f20">5</text>
<line x1="205.30" y1="443.7" x2="205.30" y2="455.7" stroke="#231f20" stroke-width="2"/>
<text x="205.30" y="481.2" font-size="18.5" text-anchor="middle" fill="#231f20">10</text>
<line x1="258.20" y1="443.7" x2="258.20" y2="455.7" stroke="#231f20" stroke-width="2"/>
<text x="258.20" y="481.2" font-size="18.5" text-anchor="middle" fill="#231f20">15</text>
<line x1="311.10" y1="443.7" x2="311.10" y2="455.7" stroke="#231f20" stroke-width="2"/>
<text x="311.10" y="481.2" font-size="18.5" text-anchor="middle" fill="#231f20">20</text>
<line x1="364.00" y1="443.7" x2="364.00" y2="455.7" stroke="#231f20" stroke-width="2"/>
<text x="364.00" y="481.2" font-size="18.5" text-anchor="middle" fill="#231f20">25</text>
<line x1="416.90" y1="443.7" x2="416.90" y2="455.7" stroke="#231f20" stroke-width="2"/>
<text x="416.90" y="481.2" font-size="18.5" text-anchor="middle" fill="#231f20">30</text>
<line x1="469.80" y1="443.7" x2="469.80" y2="455.7" stroke="#231f20" stroke-width="2"/>
<text x="469.80" y="481.2" font-size="18.5" text-anchor="middle" fill="#231f20">35</text>
<line x1="522.70" y1="443.7" x2="522.70" y2="455.7" stroke="#231f20" stroke-width="2"/>
<text x="522.70" y="481.2" font-size="18.5" text-anchor="middle" fill="#231f20">40</text>
<line x1="575.60" y1="443.7" x2="575.60" y2="455.7" stroke="#231f20" stroke-width="2"/>
<text x="575.60" y="481.2" font-size="18.5" text-anchor="middle" fill="#231f20">45</text>
<line x1="628.50" y1="443.7" x2="628.50" y2="455.7" stroke="#231f20" stroke-width="2"/>
<text x="628.50" y="481.2" font-size="18.5" text-anchor="middle" fill="#231f20">50</text>
<line x1="681.40" y1="443.7" x2="681.40" y2="455.7" stroke="#231f20" stroke-width="2"/>
<text x="681.40" y="481.2" font-size="18.5" text-anchor="middle" fill="#231f20">55</text>
<text transform="translate(0,502) scale(1,1.08)" x="215.2" y="0" font-size="19.45" font-weight="bold" fill="#231f20">Производительность, тыс. м<tspan font-size="13" dy="-6.3">3</tspan><tspan dy="6.3">/ч</tspan></text>
<text transform="translate(25.7,415.4) rotate(-90)" x="0" y="0" font-size="19.1" font-weight="bold" fill="#231f20">Статическое давление, Па</text>
</svg>
</body></html>
